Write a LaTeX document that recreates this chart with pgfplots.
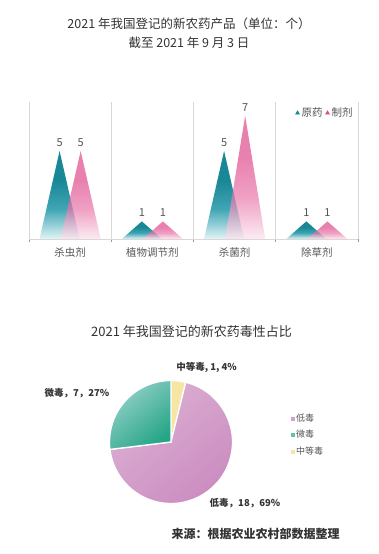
\documentclass[border=0pt]{standalone}
\usepackage{pgfplots}
\pgfplotsset{compat=1.18}
\usepackage{pgfplotstable}
\usepackage{fontspec}
\setmainfont{Noto Sans CJK SC}
\definecolor{tealT}{HTML}{1A8797}
\definecolor{tealM}{HTML}{3FA6B4}
\definecolor{tealB}{HTML}{E3F4F6}
\definecolor{pinkT}{HTML}{E04B8D}
\definecolor{pinkM}{HTML}{E878AA}
\definecolor{pinkB}{HTML}{FBE4EE}
\definecolor{txt}{HTML}{333333}
\definecolor{lbl}{HTML}{555555}
\definecolor{gridc}{HTML}{DDD7D4}
\definecolor{pieP1}{HTML}{DCB0D4}
\definecolor{pieP2}{HTML}{CA8BBF}
\definecolor{pieT1}{HTML}{98D2CA}
\definecolor{pieT2}{HTML}{25A587}
\definecolor{pieY}{HTML}{F7E6A3}

\pgfdeclareverticalshading{tealfade}{100bp}{color(0bp)=(tealB); color(25bp)=(tealB); color(42bp)=(tealM); color(58bp)=(tealT); color(100bp)=(tealT)}
\pgfdeclareverticalshading{pinkfade}{100bp}{color(0bp)=(pinkB); color(25bp)=(pinkB); color(42bp)=(pinkM); color(58bp)=(pinkT); color(100bp)=(pinkT)}

\pgfplotstableread{
x  h
0  5
1  1
2  5
3  1
}\yuanyao
\pgfplotstableread{
x  h
0  5
1  1
2  7
3  1
}\zhiji
\pgfplotstableread{
idx value
0   1
1   18
2   7
}\pietable

\begin{document}
\begin{tikzpicture}[x=1pt,y=1pt]
\path[use as bounding box] (0,0) rectangle (378,554);

% titles
\node[font=\fontsize{12.5}{14}\selectfont, text=txt] at (189,530) {2021 年我国登记的新农药产品（单位：个）};
\node[font=\fontsize{12.5}{14}\selectfont, text=txt] at (189,511) {截至 2021 年 9 月 3 日};

\pgfplotstablegetelem{0}{value}\of\pietable \edef\vA{\pgfplotsretval}
\pgfplotstablegetelem{1}{value}\of\pietable \edef\vB{\pgfplotsretval}
\pgfplotstablegetelem{2}{value}\of\pietable \edef\vC{\pgfplotsretval}
\pgfmathsetmacro\tot{\vA+\vB+\vC}
\pgfmathsetmacro\aA{90-360*\vA/\tot}
\pgfmathsetmacro\aB{\aA-360*\vB/\tot}
\pgfmathsetmacro\aC{\aB-360*\vC/\tot}

\def\tw{0.244}
\def\off{0.128}

\begin{axis}[
  at={(29pt,315pt)}, anchor=south west,
  scale only axis, width=329pt, height=137pt,
  xmin=-0.5, xmax=3.5, ymin=0, ymax=7.78,
  axis x line*=bottom, axis y line=none,
  axis line style={gridc, line width=0.8pt},
  xtick={0,1,2,3},
  xticklabels={杀虫剂,植物调节剂,杀菌剂,除草剂},
  major x tick style={draw=none},
  minor xtick={-0.5,0.5,1.5,2.5,3.5},
  minor tick length=3pt, tick align=outside,
  minor x tick style={gridc!70!black, line width=0.6pt},
  xminorgrids, minor grid style={gridc, line width=0.7pt},
  xticklabel style={font=\fontsize{10.5}{12}\selectfont, text=lbl, yshift=-1pt},
  /pgf/number format/assume math mode=true,
  nodes near coords style={font=\fontsize{11}{12}\selectfont, text=lbl, yshift=1pt},
  legend style={at={(0.99,0.92)}, anchor=east, draw=none, fill=none,
    legend columns=2, font=\fontsize{10.5}{12}\selectfont, text=lbl,
    /tikz/every even column/.append style={column sep=1pt},
    inner sep=0pt},
  legend image code/.code={\draw[#1] plot coordinates {(0.12cm,0cm)};},
  clip=false,
]
% teal triangles (原药)
\pgfplotsinvokeforeach{0,1,2,3}{
  \pgfplotstablegetelem{#1}{h}\of\yuanyao \edef\hh{\pgfplotsretval}
  \edef\doplot{\noexpand\addplot[forget plot, draw=none, shade, shading=tealfade]
    coordinates {(#1-\off-\tw,0) (#1-\off,\hh) (#1-\off+\tw,0)} \noexpand\closedcycle;}
  \doplot
}
% pink triangles (制剂)
\pgfplotsinvokeforeach{0,1,2,3}{
  \pgfplotstablegetelem{#1}{h}\of\zhiji \edef\hh{\pgfplotsretval}
  \edef\doplot{\noexpand\addplot[forget plot, draw=none, shade, shading=pinkfade, fill opacity=0.7]
    coordinates {(#1+\off-\tw,0) (#1+\off,\hh) (#1+\off+\tw,0)} \noexpand\closedcycle;}
  \doplot
}
% value labels
\addplot[forget plot, draw=none, nodes near coords, point meta=y]
  table[x expr=\thisrow{x}-\off, y=h] {\yuanyao};
\addplot[forget plot, draw=none, nodes near coords, point meta=y]
  table[x expr=\thisrow{x}+\off, y=h] {\zhiji};
% legend
\addlegendimage{only marks, mark=triangle*, mark size=2.3pt, color=tealT}
\addlegendentry{原药}
\addlegendimage{only marks, mark=triangle*, mark size=2.3pt, color=pinkT}
\addlegendentry{制剂}
\end{axis}

% pie chart
\node[font=\fontsize{13}{15}\selectfont, text=txt] at (191.5,222) {2021 年我国登记的新农药毒性占比};

\begin{axis}[
  at={(171pt,112pt)}, anchor=center,
  scale only axis, width=123pt, height=123pt,
  xmin=-1, xmax=1, ymin=-1, ymax=1,
  hide axis, clip=false,
  legend style={at={(1.45,0.557)}, anchor=west, draw=none, fill=none,
    font=\fontsize{9}{10}\selectfont, text=lbl, row sep=3.5pt},
  legend cell align=left,
]
\addlegendimage{only marks, mark=square*, mark size=1.5pt, color=pieP2!80}
\addlegendentry{低毒}
\addlegendimage{only marks, mark=square*, mark size=1.5pt, color=pieT2!70}
\addlegendentry{微毒}
\addlegendimage{only marks, mark=square*, mark size=1.5pt, color=pieY}
\addlegendentry{中等毒}
% 中等毒
\path[draw=white, line width=1.3pt, fill=pieY]
  (axis cs:0,0) -- (axis cs:{cos(90)},{sin(90)}) arc[start angle=90, end angle=\aA, radius=61.5pt] -- cycle;
% 低毒
\path[draw=white, line width=1.3pt, top color=pieP1, bottom color=pieP2, shading angle=40]
  (axis cs:0,0) -- (axis cs:{cos(\aA)},{sin(\aA)}) arc[start angle=\aA, end angle=\aB, radius=61.5pt] -- cycle;
% 微毒
\path[draw=white, line width=1.3pt, top color=pieT1, bottom color=pieT2, shading angle=40]
  (axis cs:0,0) -- (axis cs:{cos(\aB)},{sin(\aB)}) arc[start angle=\aB, end angle=\aC, radius=61.5pt] -- cycle;
\end{axis}

\node[font=\fontsize{9.5}{11}\selectfont\bfseries, text=txt] at (206.5,187) {中等毒, 1, 4\%};
\node[font=\fontsize{9.5}{11}\selectfont\bfseries, text=txt] at (77,161) {微毒，7，27\%};
\node[font=\fontsize{9.5}{11}\selectfont\bfseries, text=txt] at (245,51) {低毒，18，69\%};

\node[font=\fontsize{12}{14}\selectfont\bfseries, text=txt] at (255.5,20) {来源：根据农业农村部数据整理};
\end{tikzpicture}
\end{document}
